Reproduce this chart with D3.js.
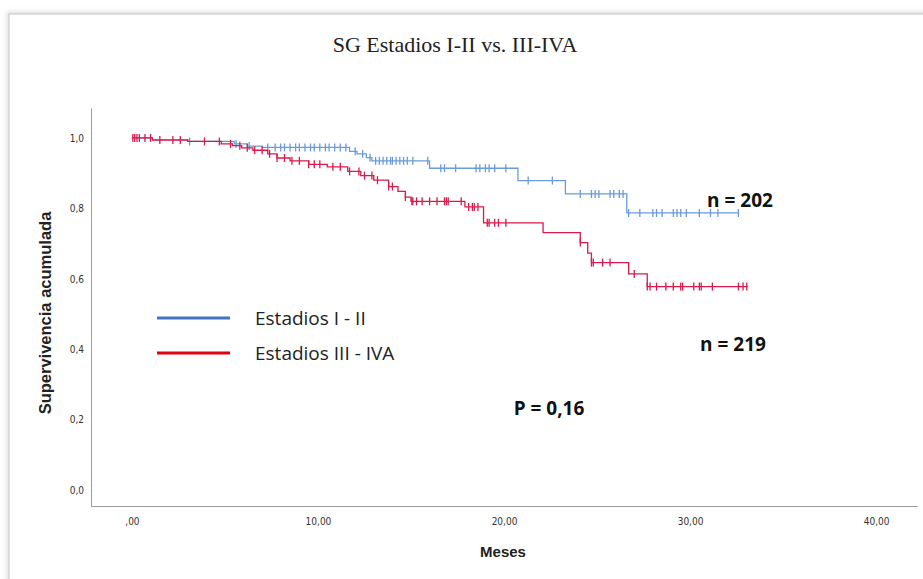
<!DOCTYPE html>
<html>
<head>
<meta charset="utf-8">
<script src="https://d3js.org/d3.v7.min.js"></script>
<style>
  body { margin: 0; background: #fff; }
  .axis path { stroke: #9a9a9a; }
  .axis text { font-family: "Liberation Sans Narrow", "DejaVu Sans Condensed", sans-serif; font-size: 10px; fill: #333; }
</style>
</head>
<body>
<script>
// Estadios I - II : step times (months) and survival after each step
var earlyTimes = [0, 1.1, 3.0, 5.5, 6.2, 7.0, 11.7, 12.1, 12.6, 12.9, 16.0, 20.75, 23.3, 26.6];
var earlySurv  = [1.0, 0.995, 0.99, 0.983, 0.977, 0.973, 0.962, 0.955, 0.944, 0.935, 0.914, 0.879, 0.841, 0.787];
var earlyEnd = 32.6;
var earlyCensor = [3.1, 5.6, 6.3, 7.3, 7.7, 8.0, 8.2, 8.5, 8.8, 9.0, 9.3, 9.6, 9.8, 10.1, 10.4, 10.6, 10.9, 11.2, 11.5,
  12.0, 12.4, 12.8, 13.1, 13.3, 13.5, 13.7, 13.9, 14.0, 14.2, 14.4, 14.6, 14.8, 15.1, 15.9,
  16.6, 16.8, 17.4, 18.5, 18.7, 19.0, 19.2, 19.5, 20.1, 21.3, 22.6,
  24.1, 24.7, 24.9, 25.1, 25.7, 25.9, 26.2, 26.4,
  26.7, 27.3, 28.0, 28.2, 28.5, 29.1, 29.3, 29.5, 29.8, 30.5, 31.1, 31.5, 32.6];

// Estadios III - IVA
var lateTimes = [0, 1.1, 3.0, 4.8, 5.4, 5.9, 6.5, 7.3, 7.8, 8.5, 9.5, 10.5, 11.6, 12.3, 13.0, 13.8, 14.3, 14.7, 15.0,
  17.9, 18.9, 22.1, 24.1, 24.5, 24.7, 26.7, 27.7];
var lateSurv  = [1.0, 0.994, 0.99, 0.983, 0.978, 0.972, 0.965, 0.955, 0.943, 0.935, 0.925, 0.918, 0.905, 0.893, 0.88, 0.862, 0.848, 0.832, 0.82,
  0.804, 0.759, 0.731, 0.703, 0.673, 0.646, 0.614, 0.578];
var lateEnd = 33.1;
var lateCensor = [0.05, 0.15, 0.27, 0.4, 0.7, 1.0, 1.5, 2.2, 2.6, 3.9, 4.7, 5.3, 5.8, 6.2, 6.6, 7.0, 7.4, 7.8, 8.2, 8.6,
  9.0, 9.5, 9.8, 10.1, 10.8, 11.2, 11.7, 12.2, 12.5, 12.9, 13.2, 13.8, 14.0, 14.7, 15.05, 15.1, 15.3, 15.6, 16.0,
  16.4, 16.8, 16.9, 17.0, 17.7, 18.1, 18.3, 18.4, 18.6, 19.1, 19.2, 19.5, 19.7, 20.1,
  24.1, 24.7, 24.8, 25.3, 25.7, 27.0, 27.7, 27.85, 28.2, 28.7, 29.1, 29.5, 29.6, 30.2, 30.5, 30.6, 31.2, 32.6, 32.85, 33.05];

var xTicks = [0, 10, 20, 30, 40];
var xTickLabels = [",00", "10,00", "20,00", "30,00", "40,00"];
var yTicks = [0, 0.2, 0.4, 0.6, 0.8, 1.0];
var yTickLabels = ["0,0", "0,2", "0,4", "0,6", "0,8", "1,0"];

var seriesNames = ["Estadios I - II", "Estadios III - IVA"];
var annotations = ["n = 202", "n = 219", "P = 0,16"];

var w = 923, h = 579;

var svg = d3.select('body').append('svg')
  .attr('width', w)
  .attr('height', h);

// outer frame with soft shadow
var defs = svg.append('defs');
var f = defs.append('filter').attr('id', 'shadow').attr('x', '-5%').attr('y', '-5%').attr('width', '110%').attr('height', '110%');
f.append('feGaussianBlur').attr('stdDeviation', 2.5);
svg.append('rect')
  .attr('x', 9).attr('y', 14).attr('width', w + 20).attr('height', h + 20)
  .attr('fill', 'none').attr('stroke', '#d8d8d8').attr('stroke-width', 4)
  .attr('filter', 'url(#shadow)');
svg.append('rect')
  .attr('x', 9).attr('y', 14).attr('width', w + 20).attr('height', h + 20)
  .attr('fill', '#fff').attr('stroke', '#c4c4c4').attr('stroke-width', 1);

var xScale = d3.scaleLinear().domain([-2.2, 42.2]).range([91, 917]);
var yScale = d3.scaleLinear().domain([-0.045, 1.085]).range([506, 108]);

var xAxisGen = d3.axisBottom(xScale).tickValues(xTicks).tickSize(0).tickSizeOuter(0).tickPadding(12)
  .tickFormat(function(d, i){ return xTickLabels[i]; });
var yAxisGen = d3.axisLeft(yScale).tickValues(yTicks).tickSize(0).tickSizeOuter(0).tickPadding(7)
  .tickFormat(function(d, i){ return yTickLabels[i]; });

svg.append('g').attr('class', 'axis')
  .attr('transform', 'translate(0,506)')
  .call(xAxisGen);
svg.append('g').attr('class', 'axis')
  .attr('transform', 'translate(91,0)')
  .call(yAxisGen);

function survAt(times, surv, t){
  var s = surv[0];
  for (var i = 0; i < times.length; i++) { if (times[i] <= t) s = surv[i]; }
  return s;
}

var lineFunc = d3.line()
  .x(function(d){ return xScale(d[0]); })
  .y(function(d){ return yScale(d[1]); })
  .curve(d3.curveStepAfter);

function drawCurve(times, surv, end, censor, color){
  var pts = times.map(function(t, i){ return [t, surv[i]]; });
  pts.push([end, surv[surv.length - 1]]);
  svg.append('path')
    .attr('d', lineFunc(pts))
    .attr('fill', 'none')
    .attr('stroke', color)
    .attr('stroke-width', 1.3);
  svg.append('g').selectAll('line')
    .data(censor)
    .join('line')
    .attr('x1', function(d){ return xScale(d); })
    .attr('x2', function(d){ return xScale(d); })
    .attr('y1', function(d){ return yScale(survAt(times, surv, d)) - 4; })
    .attr('y2', function(d){ return yScale(survAt(times, surv, d)) + 4; })
    .attr('stroke', color)
    .attr('stroke-width', 1.3);
}

drawCurve(earlyTimes, earlySurv, earlyEnd, earlyCensor, '#6a9bdc');
drawCurve(lateTimes, lateSurv, lateEnd, lateCensor, '#d81b4a');

// title
svg.append('text')
  .attr('x', 455).attr('y', 52)
  .attr('text-anchor', 'middle')
  .style('font-family', '"Liberation Serif", serif')
  .style('font-size', '22px')
  .style('fill', '#222')
  .text('SG Estadios I-II vs. III-IVA');

// axis titles
svg.append('text')
  .attr('transform', 'translate(51,313) rotate(-90)')
  .attr('text-anchor', 'middle')
  .style('font-family', '"Liberation Sans", Arial, sans-serif')
  .style('font-weight', 'bold')
  .style('font-size', '16.5px')
  .style('fill', '#222')
  .text('Supervivencia acumulada');

svg.append('text')
  .attr('x', 503).attr('y', 557)
  .attr('text-anchor', 'middle')
  .style('font-family', '"Liberation Sans", Arial, sans-serif')
  .style('font-weight', 'bold')
  .style('font-size', '15px')
  .style('fill', '#222')
  .text('Meses');

// legend
var legendColors = ['#4472c4', '#e00010'];
var legendY = [318, 353];
seriesNames.forEach(function(name, i){
  svg.append('line')
    .attr('x1', 157).attr('x2', 230)
    .attr('y1', legendY[i]).attr('y2', legendY[i])
    .attr('stroke', legendColors[i]).attr('stroke-width', 3);
  svg.append('text')
    .attr('x', 255).attr('y', legendY[i] + 7)
    .style('font-family', '"Open Sans", sans-serif')
    .style('font-size', '19px')
    .style('fill', '#222')
    .text(name);
});

// annotations
var annX = [740, 733, 549];
var annY = [207, 351, 415];
annotations.forEach(function(a, i){
  svg.append('text')
    .attr('x', annX[i]).attr('y', annY[i])
    .attr('text-anchor', 'middle')
    .style('font-family', '"Open Sans", sans-serif')
    .style('font-weight', 'bold')
    .style('font-size', '19px')
    .style('fill', '#111')
    .text(a);
});
</script>
</body>
</html>
